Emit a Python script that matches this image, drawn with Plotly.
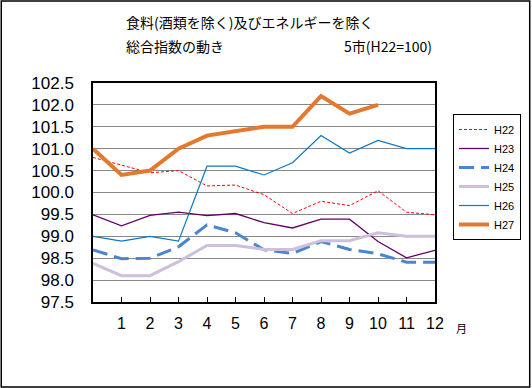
import plotly.graph_objects as go

months = list(range(0, 13))
tick_vals = list(range(1, 13))
tick_text = [str(v) for v in tick_vals]
y_ticks = [97.5, 98.0, 98.5, 99.0, 99.5, 100.0, 100.5, 101.0, 101.5, 102.0, 102.5]

h22 = [100.8, 100.62, 100.45, 100.5, 100.15, 100.17, 99.95, 99.52, 99.8, 99.7, 100.04, 99.55, 99.49]
h23 = [99.49, 99.24, 99.48, 99.55, 99.47, 99.52, 99.31, 99.19, 99.39, 99.39, 98.88, 98.51, 98.68]
h24 = [98.69, 98.49, 98.5, 98.76, 99.26, 99.08, 98.69, 98.61, 98.88, 98.7, 98.6, 98.41, 98.41]
h25 = [98.38, 98.1, 98.1, 98.42, 98.79, 98.79, 98.7, 98.7, 98.9, 98.9, 99.08, 99.0, 99.0]
h26 = [99.0, 98.89, 99.0, 98.89, 100.6, 100.6, 100.4, 100.68, 101.3, 100.9, 101.19, 101.0, 101.0]
h27 = [101.0, 100.4, 100.5, 101.0, 101.3, 101.4, 101.5, 101.5, 102.2, 101.8, 102.0]

series = [
    ("H22", h22, dict(color="#FF0000", width=1, dash="3px,2px")),
    ("H23", h23, dict(color="#660066", width=1.3)),
    ("H24", h24, dict(color="#4A86D0", width=3, dash="15px,7px")),
    ("H25", h25, dict(color="#CDBFDD", width=3)),
    ("H26", h26, dict(color="#0A78C8", width=1.2)),
    ("H27", h27, dict(color="#E3782F", width=4)),
]

fig = go.Figure()
for name, vals, line in series:
    fig.add_trace(go.Scatter(x=months[:len(vals)], y=vals, mode="lines", name=name, line=line))

L, R, T, B = 93, 96, 83, 86
W, H = 532, 388
pw, ph = W - L - R, H - T - B

def px_x(p):
    return (p - L) / pw

def px_y(p):
    return (H - B - p) / ph

fig.update_layout(
    width=W, height=H,
    margin=dict(l=L, r=R, t=T, b=B, pad=0),
    paper_bgcolor="white", plot_bgcolor="white",
    showlegend=True,
    legend=dict(
        x=px_x(453), y=px_y(114), xanchor="left", yanchor="top",
        bgcolor="white", bordercolor="black", borderwidth=1,
        font=dict(family="Liberation Sans, Arial", size=11, color="black"),
        itemwidth=30, tracegroupgap=0,
    ),
    xaxis=dict(
        range=[0, 12], tickvals=tick_vals, ticktext=tick_text,
        ticks="inside", ticklen=5, tickcolor="black",
        showline=True, linecolor="black", linewidth=1.5, mirror=True,
        showgrid=False, zeroline=False,
        tickfont=dict(family="Liberation Sans, Arial", size=16, color="black"),
        ticklabelstandoff=6,
    ),
    yaxis=dict(
        range=[97.5, 102.5], tickvals=y_ticks,
        ticktext=[f"{v:.1f}" for v in y_ticks],
        ticks="", showline=True, linecolor="black", linewidth=1.5, mirror=True,
        showgrid=True, gridcolor="#888888", gridwidth=1, zeroline=False,
        tickfont=dict(family="Liberation Sans, Arial", size=17, color="black"),
        ticklabelstandoff=14,
    ),
    font=dict(family="Noto Sans CJK JP", color="black"),
)

jp = "Noto Sans CJK JP"
fig.add_annotation(text="食料(酒類を除く)及びエネルギーを除く", xref="paper", yref="paper",
                   x=px_x(124), y=px_y(22), xanchor="left", yanchor="middle",
                   showarrow=False, font=dict(family=jp, size=14, color="black"))
fig.add_annotation(text="総合指数の動き", xref="paper", yref="paper",
                   x=px_x(124), y=px_y(46), xanchor="left", yanchor="middle",
                   showarrow=False, font=dict(family=jp, size=14, color="black"))
fig.add_annotation(text="5市(H22=100)", xref="paper", yref="paper",
                   x=px_x(343), y=px_y(46), xanchor="left", yanchor="middle",
                   showarrow=False, font=dict(family=jp, size=14, color="black"))
fig.add_annotation(text="月", xref="paper", yref="paper",
                   x=px_x(463), y=px_y(328), xanchor="center", yanchor="middle",
                   showarrow=False, font=dict(family=jp, size=11, color="black"))

fig.add_shape(type="rect", xref="paper", yref="paper",
              x0=px_x(1), x1=px_x(531), y0=px_y(387), y1=px_y(1),
              line=dict(color="black", width=1.5), fillcolor="rgba(0,0,0,0)", layer="above")

fig.write_html("out.html", config={"displayModeBar": False},
               post_script="document.body.style.margin='0px';document.body.style.overflow='hidden';")
